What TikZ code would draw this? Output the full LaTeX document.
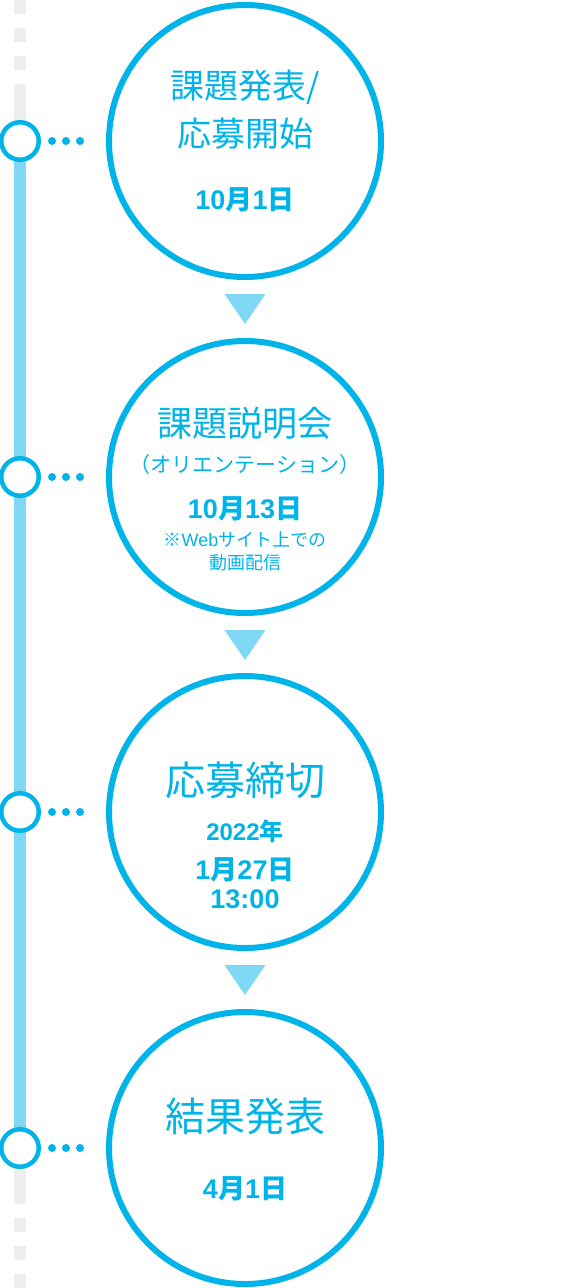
\documentclass[tikz,border=0pt]{standalone}
\usepackage{fontspec}
\setmainfont{Noto Sans CJK JP}
\newfontfamily\numfont{Liberation Sans}
\usetikzlibrary{positioning}
\definecolor{mainblue}{HTML}{00B4EA}
\definecolor{lineblue}{HTML}{80D8F4}
\definecolor{railgray}{HTML}{EEEEEE}
\newcommand{\fsz}[1]{\fontsize{#1pt}{#1pt}\selectfont}
\newcommand{\nm}[1]{{\numfont #1}}
\tikzset{
  stage/.style={circle, draw=mainblue, line width=6pt, fill=white, minimum size=272pt, inner sep=0pt},
  marker/.style={circle, draw=mainblue, line width=4.5pt, fill=white, minimum size=37.5pt, inner sep=0pt},
  dotmark/.style={circle, fill=mainblue, minimum size=8pt, inner sep=0pt},
  rail/.style={line width=12pt},
  pointer/.style={fill=lineblue},
  txt/.style={text=mainblue, anchor=base, inner sep=0pt},
  headtxt/.style={txt, font=\fsz{34}},
  datetxt/.style={txt, font=\bfseries\fsz{27}},
  smalltxt/.style={txt, font=\fsz{18}}
}
\begin{document}
\begin{tikzpicture}[x=1pt, y=-1pt]
  \useasboundingbox (0,0) rectangle (570,1288);
  % timeline on the left
  \coordinate (topend) at (20,0);
  \coordinate (topjoin) at (20,84);
  \coordinate (botjoin) at (20,1204);
  \coordinate (botdash) at (20,1218);
  \coordinate (botend) at (20,1288);
  \coordinate (r1) at (20,141);
  \coordinate (r4) at (20,1148);
  \draw[rail, railgray, dash pattern=on 14pt off 14pt] (topend) -- (topjoin);
  \draw[rail, railgray] (topjoin) -- (r1);
  \draw[rail, railgray] (r4) -- (botjoin);
  \draw[rail, railgray, dash pattern=on 14pt off 14pt] (botdash) -- (botend);
  \draw[rail, lineblue] (r1) -- (r4);
  \foreach \i/\y in {1/141, 2/477, 3/812, 4/1148} {
    \node[marker] (m\i) at (20,\y) {};
    \node[dotmark] (m\i a) at (52,\y) {};
    \node[dotmark] (m\i b) at (66,\y) {};
    \node[dotmark] (m\i c) at (80,\y) {};
  }
  % stages
  \node[stage] (s1) at (245,141) {};
  \node[stage] (s2) at (245,477) {};
  \node[stage] (s3) at (245,812) {};
  \node[stage] (s4) at (245,1148) {};
  \foreach \y in {141, 477, 812}
    \fill[pointer] (224.5,\y+153) -- (265.5,\y+153) -- (245,\y+183) -- cycle;
  % texts
  \node[headtxt] (t1a) at (245,98.6) {課題発表/};
  \node[headtxt] (t1b) at (245,146.6) {応募開始};
  \node[datetxt] (t1c) at (245,209.5) {\nm{10}月\nm{1}日};
  \node[headtxt, font=\fsz{35}] (t2a) at (245,436) {課題説明会};
  \node[txt, font=\fsz{21}] (t2b) at (245,472.6) {（オリエンテーション）};
  \node[datetxt] (t2c) at (245,518) {\nm{10}月\nm{13}日};
  \node[smalltxt] (t2d) at (245,546.2) {※\nm{Web}サイト上での};
  \node[smalltxt] (t2e) at (245,569.8) {動画配信};
  \node[headtxt, font=\fsz{40}] (t3a) at (245,795) {応募締切};
  \node[datetxt, font=\bfseries\fsz{24}] (t3b) at (245,840.5) {\nm{2022}年};
  \node[datetxt] (t3c) at (245,879) {\nm{1}月\nm{27}日};
  \node[datetxt] (t3d) at (245,908.5) {\nm{13:00}};
  \node[headtxt, font=\fsz{40}] (t4a) at (245,1131) {結果発表};
  \node[datetxt] (t4b) at (245,1198) {\nm{4}月\nm{1}日};
\end{tikzpicture}
\end{document}
